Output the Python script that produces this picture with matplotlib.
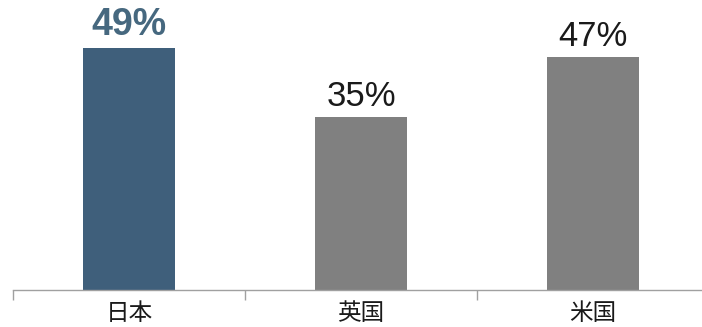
import matplotlib.pyplot as plt

plt.rcParams['font.family'] = ['Liberation Sans', 'Noto Sans CJK JP', 'DejaVu Sans']

countries = ['日本', '英国', '米国']
shares = [49, 35, 47]
bar_colors = ['#3f5f7b', '#808080', '#808080']
label_colors = ['#46687f', '#1a1a1a', '#1a1a1a']
label_weights = ['bold', 'normal', 'normal']
label_sizes = [27, 25, 25]

fig = plt.figure(figsize=(7.02, 3.27), dpi=100)
ax = fig.add_axes([13 / 702, 37 / 327, 696 / 702, 290 / 327])

x = range(len(countries))
bars = ax.bar(x, shares, width=0.4, color=bar_colors)

for bar, val, c, w, s in zip(bars, shares, label_colors, label_weights, label_sizes):
    ax.annotate(f'{val}%', (bar.get_x() + bar.get_width() / 2, val),
                xytext=(0, 3), textcoords='offset points',
                ha='center', va='bottom', fontsize=s, color=c, fontweight=w)

ax.set_xlim(-0.5, 2.5)
ax.set_ylim(0, 58.6)
ax.set_yticks([])
ax.set_xticks([-0.5, 0.5, 1.5, 2.5])
ax.set_xticklabels([])
ax.set_xticks(list(x), minor=True)
ax.set_xticklabels(countries, minor=True, fontsize=17,
                   fontfamily=['Noto Sans CJK JP'], color='#1a1a1a')
ax.tick_params(axis='x', which='major', length=7, color='#a0a0a0', width=1)
ax.tick_params(axis='x', which='minor', length=0, pad=9)

for side in ['top', 'right', 'left']:
    ax.spines[side].set_visible(False)
ax.spines['bottom'].set_color('#a0a0a0')
ax.spines['bottom'].set_linewidth(1)

fig.savefig('out.png', dpi=100)
